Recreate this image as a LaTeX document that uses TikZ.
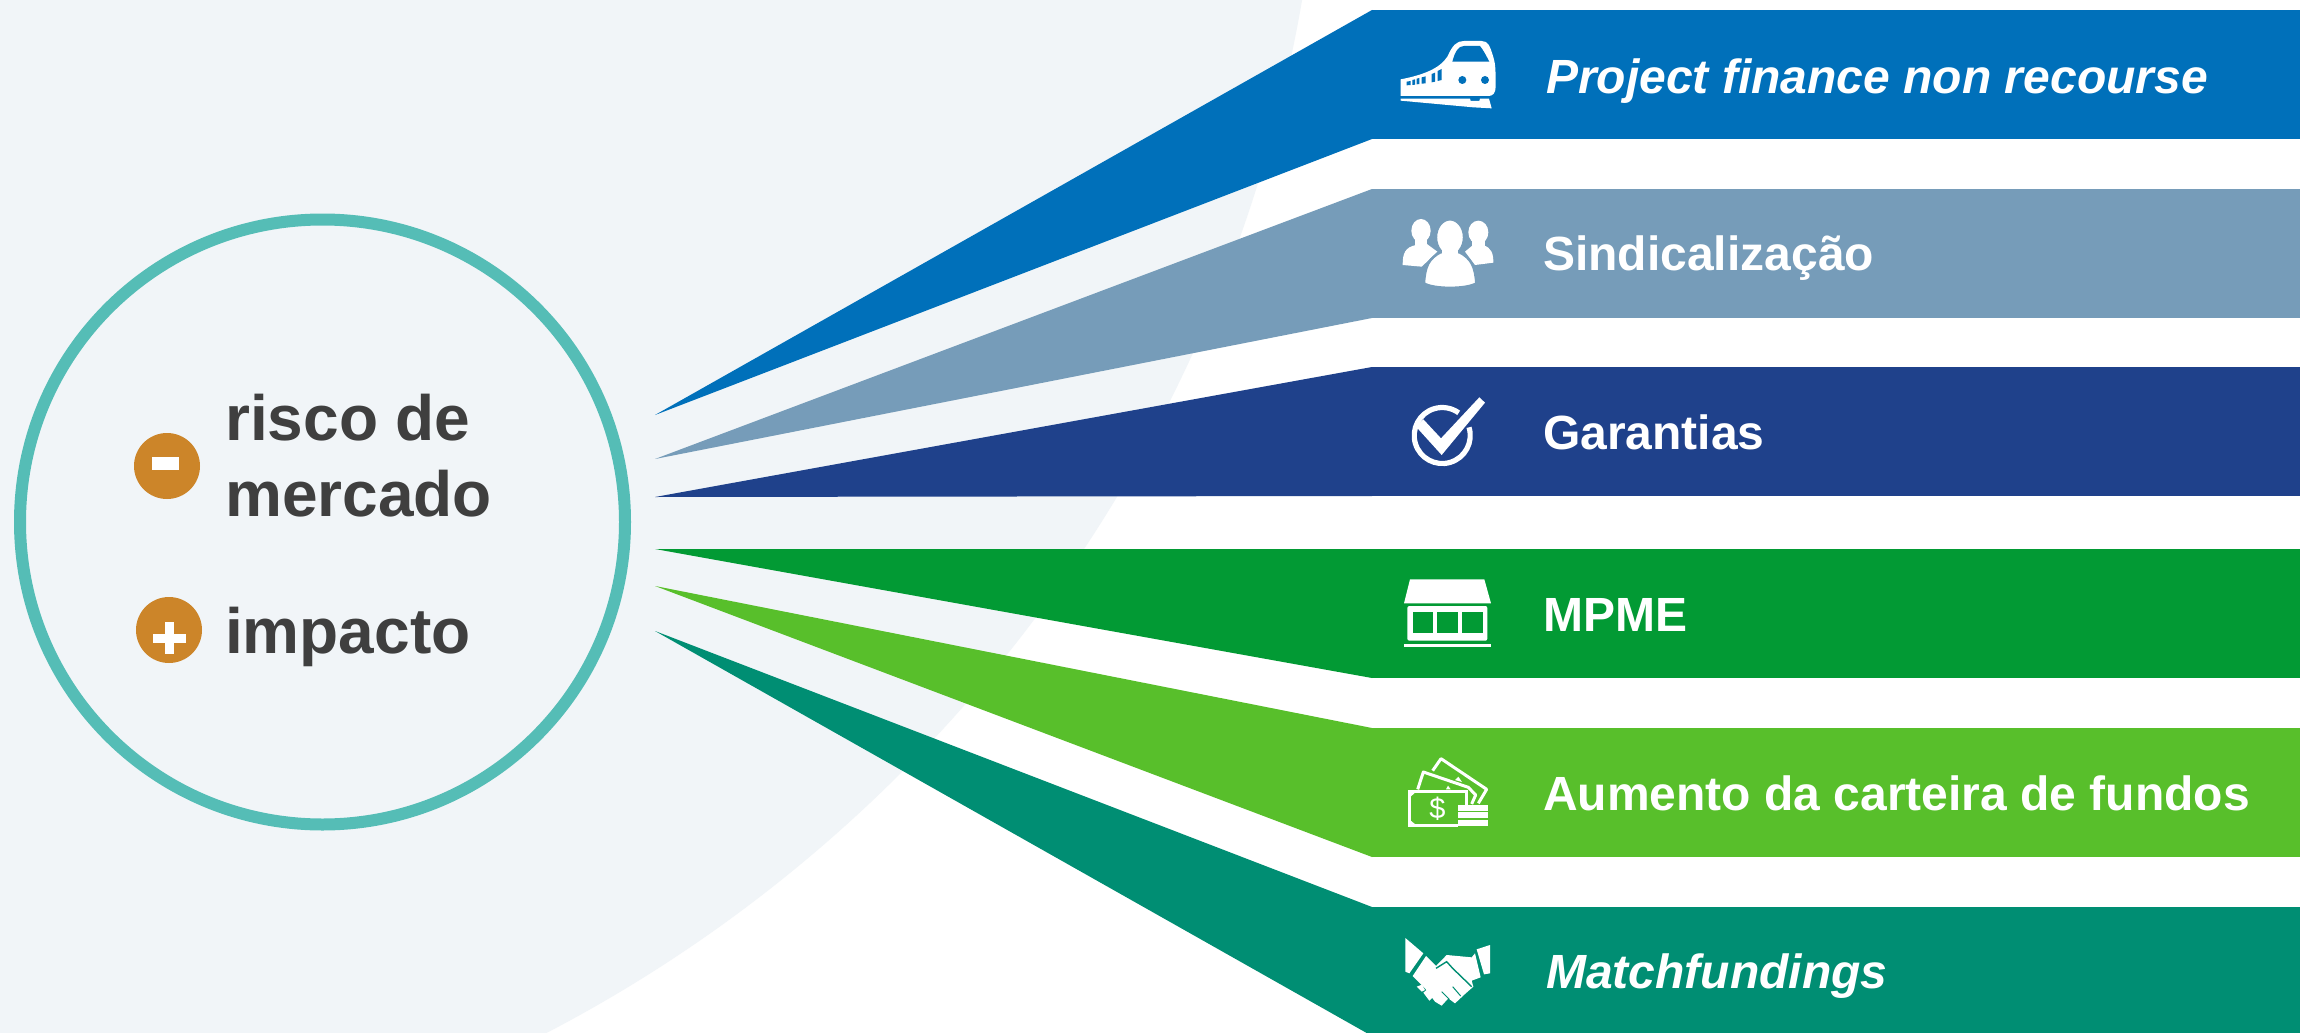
\documentclass[tikz,border=0pt]{standalone}
\usepackage{fontspec}
\setmainfont{Liberation Sans}
\usepackage{tikz}

\definecolor{palebg}{HTML}{F1F5F8}
\definecolor{ringteal}{HTML}{55BDB6}
\definecolor{dotorange}{HTML}{CC8529}
\definecolor{darktext}{HTML}{3F3F3F}
\definecolor{bandblue}{HTML}{0070BA}
\definecolor{bandsteel}{HTML}{769CB9}
\definecolor{bandnavy}{HTML}{1F418B}
\definecolor{bandgreen}{HTML}{029A34}
\definecolor{bandlime}{HTML}{58BF2B}
\definecolor{bandteal}{HTML}{008E73}

\tikzset{
    bandbox/.style={rectangle,fill=#1,anchor=north west,inner sep=0pt,outer sep=0pt,
        minimum width=928pt,minimum height=129pt},
    bandtext/.style={anchor=base west,inner sep=0pt,text=white,font=\fontsize{48}{48}\selectfont\bfseries},
    risktext/.style={anchor=base west,inner sep=0pt,text=darktext,font=\fontsize{64}{64}\selectfont\bfseries},
    signdot/.style={circle,fill=dotorange,minimum size=66pt,inner sep=0pt},
    icon/.style={fill=white,draw=none}
}

\begin{document}
\begin{tikzpicture}[x=1pt,y=-1pt]
    \clip (0,0) rectangle (2300,1033);
    \fill[white] (0,0) rectangle (2300,1033);
    % pale background disc
    \fill[palebg] (-118,-246) circle [radius=1441];

    % left ring with its two lines
    \node[circle,draw=ringteal,line width=12pt,minimum size=605pt] (riskring) at (322.5,522) {};
    \node[signdot] (minusdot) at (167,466) {};
    \node[signdot] (plusdot) at (169,630) {};
    \fill[white] (152,457) rectangle (179,470);
    \fill[white] (153,634) rectangle (186,643);
    \fill[white] (165,622) rectangle (174,654);
    \node[risktext] (riskline) at (225,440) {risco de};
    \node[risktext] (marketline) at (225,516) {mercado};
    \node[risktext] (impactline) at (225,653) {impacto};

    % bands
    \node[bandbox=bandblue] (bandone) at (1372,10) {};
    \node[bandbox=bandsteel] (bandtwo) at (1372,189) {};
    \node[bandbox=bandnavy] (bandthree) at (1372,367) {};
    \node[bandbox=bandgreen] (bandfour) at (1372,549) {};
    \node[bandbox=bandlime] (bandfive) at (1372,728) {};
    \node[bandbox=bandteal] (bandsix) at (1372,907) {};

    % the tips the wedges run to
    \coordinate (tipone) at (655,415);
    \coordinate (tiptwo) at (655,459);
    \coordinate (tipthree) at (655,497);
    \coordinate (tipfour) at (655,549);
    \coordinate (tipfive) at (655,586);
    \coordinate (tipsix) at (655,631);
    \fill[bandblue] (tipone) -- (bandone.north west) -- (bandone.south west) -- cycle;
    \fill[bandsteel] (tiptwo) -- (bandtwo.north west) -- (bandtwo.south west) -- cycle;
    \fill[bandnavy] (tipthree) -- (bandthree.north west) -- (bandthree.south west) -- cycle;
    \fill[bandgreen] (tipfour) -- (bandfour.north west) -- (bandfour.south west) -- cycle;
    \fill[bandlime] (tipfive) -- (bandfive.north west) -- (bandfive.south west) -- cycle;
    \fill[bandteal] (tipsix) -- (bandsix.north west) -- (bandsix.south west) -- cycle;

    % band labels
    \node[bandtext,font=\fontsize{48}{48}\selectfont\bfseries\itshape] (projectlabel) at (1546,93) {Project finance non recourse};
    \node[bandtext] (syndlabel) at (1543,270) {Sindicalização};
    \node[bandtext] (guaranteelabel) at (1543,449) {Garantias};
    \node[bandtext] (smelabel) at (1543,631) {MPME};
    \node[bandtext] (fundlabel) at (1543,810) {Aumento da carteira de fundos};
    \node[bandtext,font=\fontsize{48}{48}\selectfont\bfseries\itshape] (matchlabel) at (1546,988) {Matchfundings};

    % train
    \begin{scope}[shift={(1340,0)},scale=1/3]
        \fill[icon] (182,238) .. controls (250,225) and (300,205) .. (322,170)
            .. controls (338,135) and (350,123) .. (372,123) -- (425,123)
            .. controls (445,123) and (450,140) .. (458,165)
            .. controls (466,190) and (467,200) .. (467,260)
            .. controls (467,280) and (458,288) .. (445,288) -- (182,288) -- cycle;
        \fill[bandblue] (337,185) .. controls (345,155) and (355,138) .. (372,138) -- (420,138)
            .. controls (430,150) and (440,170) .. (448,185) -- cycle;
        \fill[bandblue] (367,240) circle [radius=12];
        \fill[bandblue] (435,240) circle [radius=12];
        \fill[bandblue] (200,245) -- (212,243) -- (212,255) -- (200,256) -- cycle;
        \fill[bandblue] (217,240) -- (225,238) -- (225,254) -- (217,255) -- cycle;
        \fill[bandblue] (230,236) -- (238,234) -- (238,252) -- (230,253) -- cycle;
        \fill[bandblue] (245,232) -- (257,229) -- (257,250) -- (245,251) -- cycle;
        \fill[bandblue] (275,222) -- (285,218) -- (285,245) -- (275,247) -- cycle;
        \fill[bandblue] (293,213) -- (305,207) -- (305,240) -- (293,243) -- cycle;
        \fill[icon] (182,296) -- (390,296) -- (392,303) -- (418,303) -- (420,296) -- (447,296)
            -- (455,325) -- (400,322) -- (182,302) -- cycle;
    \end{scope}

    % people
    \begin{scope}[shift={(1340,0)},scale=1/3]
        \fill[icon] (243,692) ellipse [x radius=29,y radius=35];
        \fill[icon] (224,700) rectangle (262,742);
        \fill[icon] (188,795) .. controls (188,760) and (195,742) .. (228,735) -- (258,730)
            -- (292,755) -- (245,800) -- cycle;
        \fill[icon] (415,697) ellipse [x radius=30,y radius=35];
        \fill[icon] (396,700) rectangle (434,742);
        \fill[icon] (375,755) -- (405,730) -- (430,735) .. controls (455,745) and (460,760) .. (460,788)
            -- (405,795) -- cycle;
        \draw[bandsteel,line width=2.4pt,fill=white] (252,850) .. controls (255,800) and (265,775) .. (305,755)
            -- (355,755) .. controls (395,775) and (405,800) .. (409,850)
            .. controls (380,868) and (280,868) .. (252,850) -- cycle;
        \draw[bandsteel,line width=2.4pt,fill=white] (330,712) ellipse [x radius=42,y radius=54];
        \fill[icon] (305,745) rectangle (355,790);
    \end{scope}

    % check mark
    \begin{scope}[shift={(1340,370)},scale=1/3]
        \draw[white,line width=5.2pt] (387,172) arc [start angle=-17,end angle=306,radius=84];
        \fill[icon] (228,170) -- (250,148) -- (303,205) -- (418,82) -- (435,98) -- (305,255) -- cycle;
    \end{scope}

    % shop
    \begin{scope}[shift={(1340,370)},scale=1/3]
        \fill[icon] (210,628) -- (433,628) -- (453,700) -- (192,700) -- cycle;
        \fill[icon,rounded corners=2pt] (202,708) rectangle (442,812);
        \fill[bandgreen] (218,727) rectangle (280,788);
        \fill[bandgreen] (292,727) rectangle (353,788);
        \fill[bandgreen] (366,727) rectangle (428,788);
        \fill[icon] (192,823) rectangle (453,832);
    \end{scope}

    % money
    \begin{scope}[shift={(1340,720)},scale=1/3]
        \draw[white,line width=3pt,line join=round] (278,152) -- (303,116) -- (440,208) -- (415,250);
        \draw[white,line width=3pt,line join=round] (233,208) -- (250,156) -- (385,202) -- (407,225) -- (395,252);
        \fill[icon] (318,208) -- (324,197) -- (332,208) -- cycle;
        \fill[icon] (345,180) -- (355,170) -- (366,186) -- cycle;
        \draw[white,line width=3pt] (378,255) -- (378,215) -- (208,215) -- (208,315) -- (353,315);
        \fill[icon] (205,212) -- (232,212) -- (205,236) -- cycle;
        \fill[icon] (205,318) -- (232,318) -- (205,296) -- cycle;
        \node[text=white,font=\fontsize{29}{29}\selectfont,inner sep=0pt] (dollarsign) at (292,266) {\$};
        \fill[icon] (355,256) rectangle (444,273);
        \fill[icon] (355,277) rectangle (444,295);
        \fill[icon] (355,299) rectangle (444,318);
    \end{scope}

    % handshake
    \begin{scope}[shift={(1340,720)},scale=1/3]
        \fill[icon] (196,654) -- (250,700) -- (208,760) -- (196,755) -- cycle;
        \fill[icon] (410,688) -- (450,675) -- (450,760) -- (432,763) -- cycle;
        \fill[icon] (218,768) -- (258,708) -- (288,738) -- (320,705) -- (395,712) -- (405,700)
            -- (422,772) -- (395,782) -- (400,800) -- (375,822) -- (345,850) -- (325,835)
            -- (305,857) -- (285,845) -- (255,805) -- cycle;
        \draw[bandteal,line width=1.4pt] (288,745) -- (320,725) -- (338,745) -- (395,800);
        \draw[bandteal,line width=1pt] (338,800) -- (362,828);
        \draw[bandteal,line width=1pt] (305,815) -- (328,838);
        \fill[icon] (230,800) -- (246,794) -- (255,810) -- (245,815) -- cycle;
        \fill[icon] (250,818) -- (262,808) -- (280,830) -- (268,842) -- cycle;
    \end{scope}
\end{tikzpicture}
\end{document}
